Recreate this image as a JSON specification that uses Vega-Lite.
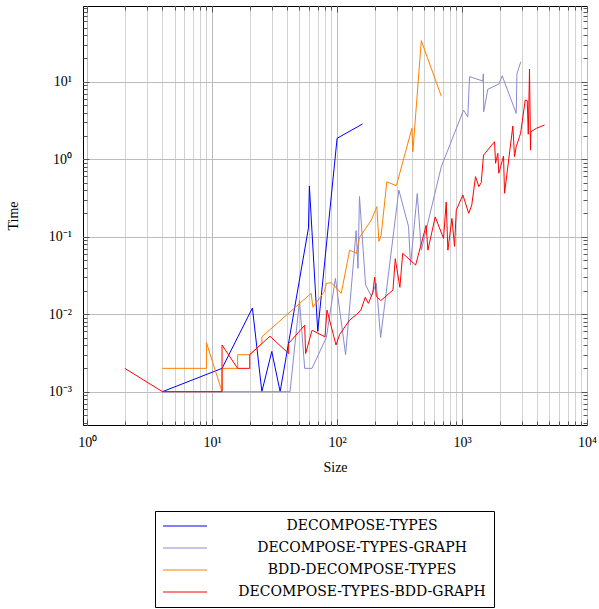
{
  "$schema": "https://vega.github.io/schema/vega-lite/v6.json",
  "width": 504,
  "height": 419,
  "autosize": {"type": "none"},
  "padding": {"left": 83, "top": 6, "right": 12, "bottom": 184},
  "background": "white",
  "config": {
    "view": {"stroke": "black", "strokeWidth": 1},
    "axis": {"domain": false, "labelFont": "Liberation Serif", "titleFont": "Liberation Serif", "labelColor": "black", "titleColor": "black", "titleFontWeight": "normal", "tickColor": "#555555", "gridColor": "#c4c4c4", "gridWidth": 1, "tickWidth": 1}
  },
  "data": {"values": [
    {"s":"DECOMPOSE-TYPES","i":0,"x":4,"y":0.001},
    {"s":"DECOMPOSE-TYPES","i":1,"x":12,"y":0.002},
    {"s":"DECOMPOSE-TYPES","i":2,"x":21,"y":0.012},
    {"s":"DECOMPOSE-TYPES","i":3,"x":25,"y":0.001},
    {"s":"DECOMPOSE-TYPES","i":4,"x":30,"y":0.0033},
    {"s":"DECOMPOSE-TYPES","i":5,"x":35,"y":0.001},
    {"s":"DECOMPOSE-TYPES","i":6,"x":59,"y":0.13},
    {"s":"DECOMPOSE-TYPES","i":7,"x":60,"y":0.45},
    {"s":"DECOMPOSE-TYPES","i":8,"x":70,"y":0.006},
    {"s":"DECOMPOSE-TYPES","i":9,"x":100,"y":1.86},
    {"s":"DECOMPOSE-TYPES","i":10,"x":160,"y":2.85},
    {"s":"DECOMPOSE-TYPES-GRAPH","i":11,"x":4,"y":0.001},
    {"s":"DECOMPOSE-TYPES-GRAPH","i":12,"x":12,"y":0.001},
    {"s":"DECOMPOSE-TYPES-GRAPH","i":13,"x":42,"y":0.001},
    {"s":"DECOMPOSE-TYPES-GRAPH","i":14,"x":50,"y":0.015},
    {"s":"DECOMPOSE-TYPES-GRAPH","i":15,"x":55,"y":0.002},
    {"s":"DECOMPOSE-TYPES-GRAPH","i":16,"x":63,"y":0.002},
    {"s":"DECOMPOSE-TYPES-GRAPH","i":17,"x":82,"y":0.005},
    {"s":"DECOMPOSE-TYPES-GRAPH","i":18,"x":97,"y":0.029},
    {"s":"DECOMPOSE-TYPES-GRAPH","i":19,"x":117,"y":0.003},
    {"s":"DECOMPOSE-TYPES-GRAPH","i":20,"x":142,"y":0.12},
    {"s":"DECOMPOSE-TYPES-GRAPH","i":21,"x":147,"y":0.039},
    {"s":"DECOMPOSE-TYPES-GRAPH","i":22,"x":151,"y":0.33},
    {"s":"DECOMPOSE-TYPES-GRAPH","i":23,"x":169,"y":0.024},
    {"s":"DECOMPOSE-TYPES-GRAPH","i":24,"x":188,"y":0.017},
    {"s":"DECOMPOSE-TYPES-GRAPH","i":25,"x":206,"y":0.025},
    {"s":"DECOMPOSE-TYPES-GRAPH","i":26,"x":223,"y":0.005},
    {"s":"DECOMPOSE-TYPES-GRAPH","i":27,"x":312,"y":0.40},
    {"s":"DECOMPOSE-TYPES-GRAPH","i":28,"x":373,"y":0.135},
    {"s":"DECOMPOSE-TYPES-GRAPH","i":29,"x":387,"y":0.043},
    {"s":"DECOMPOSE-TYPES-GRAPH","i":30,"x":438,"y":0.36},
    {"s":"DECOMPOSE-TYPES-GRAPH","i":31,"x":472,"y":0.067},
    {"s":"DECOMPOSE-TYPES-GRAPH","i":32,"x":682,"y":0.8},
    {"s":"DECOMPOSE-TYPES-GRAPH","i":33,"x":1028,"y":4.3},
    {"s":"DECOMPOSE-TYPES-GRAPH","i":34,"x":1112,"y":3.5},
    {"s":"DECOMPOSE-TYPES-GRAPH","i":35,"x":1148,"y":11.6},
    {"s":"DECOMPOSE-TYPES-GRAPH","i":36,"x":1467,"y":10.2},
    {"s":"DECOMPOSE-TYPES-GRAPH","i":37,"x":1480,"y":12.6},
    {"s":"DECOMPOSE-TYPES-GRAPH","i":38,"x":1490,"y":4.1},
    {"s":"DECOMPOSE-TYPES-GRAPH","i":39,"x":1608,"y":8.0},
    {"s":"DECOMPOSE-TYPES-GRAPH","i":40,"x":1969,"y":9.3},
    {"s":"DECOMPOSE-TYPES-GRAPH","i":41,"x":2097,"y":11.9},
    {"s":"DECOMPOSE-TYPES-GRAPH","i":42,"x":2714,"y":3.9},
    {"s":"DECOMPOSE-TYPES-GRAPH","i":43,"x":2750,"y":12.6},
    {"s":"DECOMPOSE-TYPES-GRAPH","i":44,"x":2953,"y":18.1},
    {"s":"BDD-DECOMPOSE-TYPES","i":45,"x":4,"y":0.002},
    {"s":"BDD-DECOMPOSE-TYPES","i":46,"x":9,"y":0.002},
    {"s":"BDD-DECOMPOSE-TYPES","i":47,"x":9,"y":0.0043},
    {"s":"BDD-DECOMPOSE-TYPES","i":48,"x":12,"y":0.001},
    {"s":"BDD-DECOMPOSE-TYPES","i":49,"x":12,"y":0.002},
    {"s":"BDD-DECOMPOSE-TYPES","i":50,"x":16,"y":0.002},
    {"s":"BDD-DECOMPOSE-TYPES","i":51,"x":16,"y":0.003},
    {"s":"BDD-DECOMPOSE-TYPES","i":52,"x":20,"y":0.003},
    {"s":"BDD-DECOMPOSE-TYPES","i":53,"x":25,"y":0.0042},
    {"s":"BDD-DECOMPOSE-TYPES","i":54,"x":25,"y":0.0051},
    {"s":"BDD-DECOMPOSE-TYPES","i":55,"x":62,"y":0.0186},
    {"s":"BDD-DECOMPOSE-TYPES","i":56,"x":64,"y":0.0123},
    {"s":"BDD-DECOMPOSE-TYPES","i":57,"x":79,"y":0.0195},
    {"s":"BDD-DECOMPOSE-TYPES","i":58,"x":82,"y":0.025},
    {"s":"BDD-DECOMPOSE-TYPES","i":59,"x":90,"y":0.0255},
    {"s":"BDD-DECOMPOSE-TYPES","i":60,"x":108,"y":0.0186},
    {"s":"BDD-DECOMPOSE-TYPES","i":61,"x":126,"y":0.067},
    {"s":"BDD-DECOMPOSE-TYPES","i":62,"x":143,"y":0.061},
    {"s":"BDD-DECOMPOSE-TYPES","i":63,"x":151,"y":0.098},
    {"s":"BDD-DECOMPOSE-TYPES","i":64,"x":188,"y":0.164},
    {"s":"BDD-DECOMPOSE-TYPES","i":65,"x":208,"y":0.244},
    {"s":"BDD-DECOMPOSE-TYPES","i":66,"x":216,"y":0.087},
    {"s":"BDD-DECOMPOSE-TYPES","i":67,"x":225,"y":0.103},
    {"s":"BDD-DECOMPOSE-TYPES","i":68,"x":250,"y":0.51},
    {"s":"BDD-DECOMPOSE-TYPES","i":69,"x":298,"y":0.455},
    {"s":"BDD-DECOMPOSE-TYPES","i":70,"x":397,"y":2.5},
    {"s":"BDD-DECOMPOSE-TYPES","i":71,"x":404,"y":1.25},
    {"s":"BDD-DECOMPOSE-TYPES","i":72,"x":472,"y":33.8},
    {"s":"BDD-DECOMPOSE-TYPES","i":73,"x":682,"y":6.5},
    {"s":"DECOMPOSE-TYPES-BDD-GRAPH","i":74,"x":2,"y":0.002},
    {"s":"DECOMPOSE-TYPES-BDD-GRAPH","i":75,"x":4,"y":0.001},
    {"s":"DECOMPOSE-TYPES-BDD-GRAPH","i":76,"x":12,"y":0.001},
    {"s":"DECOMPOSE-TYPES-BDD-GRAPH","i":77,"x":12,"y":0.004},
    {"s":"DECOMPOSE-TYPES-BDD-GRAPH","i":78,"x":16,"y":0.002},
    {"s":"DECOMPOSE-TYPES-BDD-GRAPH","i":79,"x":20,"y":0.002},
    {"s":"DECOMPOSE-TYPES-BDD-GRAPH","i":80,"x":20,"y":0.003},
    {"s":"DECOMPOSE-TYPES-BDD-GRAPH","i":81,"x":29,"y":0.0052},
    {"s":"DECOMPOSE-TYPES-BDD-GRAPH","i":82,"x":41,"y":0.0031},
    {"s":"DECOMPOSE-TYPES-BDD-GRAPH","i":83,"x":41,"y":0.0042},
    {"s":"DECOMPOSE-TYPES-BDD-GRAPH","i":84,"x":55,"y":0.0072},
    {"s":"DECOMPOSE-TYPES-BDD-GRAPH","i":85,"x":56,"y":0.0031},
    {"s":"DECOMPOSE-TYPES-BDD-GRAPH","i":86,"x":63,"y":0.0062},
    {"s":"DECOMPOSE-TYPES-BDD-GRAPH","i":87,"x":80,"y":0.0051},
    {"s":"DECOMPOSE-TYPES-BDD-GRAPH","i":88,"x":83,"y":0.0113},
    {"s":"DECOMPOSE-TYPES-BDD-GRAPH","i":89,"x":98,"y":0.004},
    {"s":"DECOMPOSE-TYPES-BDD-GRAPH","i":90,"x":105,"y":0.0055},
    {"s":"DECOMPOSE-TYPES-BDD-GRAPH","i":91,"x":126,"y":0.0084},
    {"s":"DECOMPOSE-TYPES-BDD-GRAPH","i":92,"x":142,"y":0.0098},
    {"s":"DECOMPOSE-TYPES-BDD-GRAPH","i":93,"x":155,"y":0.0113},
    {"s":"DECOMPOSE-TYPES-BDD-GRAPH","i":94,"x":168,"y":0.0165},
    {"s":"DECOMPOSE-TYPES-BDD-GRAPH","i":95,"x":178,"y":0.0138},
    {"s":"DECOMPOSE-TYPES-BDD-GRAPH","i":96,"x":193,"y":0.019},
    {"s":"DECOMPOSE-TYPES-BDD-GRAPH","i":97,"x":200,"y":0.03},
    {"s":"DECOMPOSE-TYPES-BDD-GRAPH","i":98,"x":206,"y":0.017},
    {"s":"DECOMPOSE-TYPES-BDD-GRAPH","i":99,"x":224,"y":0.015},
    {"s":"DECOMPOSE-TYPES-BDD-GRAPH","i":100,"x":280,"y":0.0205},
    {"s":"DECOMPOSE-TYPES-BDD-GRAPH","i":101,"x":292,"y":0.052},
    {"s":"DECOMPOSE-TYPES-BDD-GRAPH","i":102,"x":318,"y":0.0222},
    {"s":"DECOMPOSE-TYPES-BDD-GRAPH","i":103,"x":335,"y":0.061},
    {"s":"DECOMPOSE-TYPES-BDD-GRAPH","i":104,"x":425,"y":0.043},
    {"s":"DECOMPOSE-TYPES-BDD-GRAPH","i":105,"x":516,"y":0.14},
    {"s":"DECOMPOSE-TYPES-BDD-GRAPH","i":106,"x":533,"y":0.067},
    {"s":"DECOMPOSE-TYPES-BDD-GRAPH","i":107,"x":610,"y":0.18},
    {"s":"DECOMPOSE-TYPES-BDD-GRAPH","i":108,"x":711,"y":0.095},
    {"s":"DECOMPOSE-TYPES-BDD-GRAPH","i":109,"x":747,"y":0.28},
    {"s":"DECOMPOSE-TYPES-BDD-GRAPH","i":110,"x":770,"y":0.067},
    {"s":"DECOMPOSE-TYPES-BDD-GRAPH","i":111,"x":830,"y":0.172},
    {"s":"DECOMPOSE-TYPES-BDD-GRAPH","i":112,"x":871,"y":0.075},
    {"s":"DECOMPOSE-TYPES-BDD-GRAPH","i":113,"x":899,"y":0.22},
    {"s":"DECOMPOSE-TYPES-BDD-GRAPH","i":114,"x":1015,"y":0.345},
    {"s":"DECOMPOSE-TYPES-BDD-GRAPH","i":115,"x":1132,"y":0.2},
    {"s":"DECOMPOSE-TYPES-BDD-GRAPH","i":116,"x":1196,"y":0.256},
    {"s":"DECOMPOSE-TYPES-BDD-GRAPH","i":117,"x":1282,"y":0.595},
    {"s":"DECOMPOSE-TYPES-BDD-GRAPH","i":118,"x":1363,"y":0.442},
    {"s":"DECOMPOSE-TYPES-BDD-GRAPH","i":119,"x":1424,"y":0.498},
    {"s":"DECOMPOSE-TYPES-BDD-GRAPH","i":120,"x":1486,"y":1.13},
    {"s":"DECOMPOSE-TYPES-BDD-GRAPH","i":121,"x":1820,"y":1.68},
    {"s":"DECOMPOSE-TYPES-BDD-GRAPH","i":122,"x":1854,"y":0.885},
    {"s":"DECOMPOSE-TYPES-BDD-GRAPH","i":123,"x":1934,"y":1.19},
    {"s":"DECOMPOSE-TYPES-BDD-GRAPH","i":124,"x":1969,"y":0.658},
    {"s":"DECOMPOSE-TYPES-BDD-GRAPH","i":125,"x":2148,"y":1.1},
    {"s":"DECOMPOSE-TYPES-BDD-GRAPH","i":126,"x":2188,"y":0.363},
    {"s":"DECOMPOSE-TYPES-BDD-GRAPH","i":127,"x":2550,"y":2.68},
    {"s":"DECOMPOSE-TYPES-BDD-GRAPH","i":128,"x":2630,"y":1.08},
    {"s":"DECOMPOSE-TYPES-BDD-GRAPH","i":129,"x":2714,"y":1.45},
    {"s":"DECOMPOSE-TYPES-BDD-GRAPH","i":130,"x":2884,"y":1.95},
    {"s":"DECOMPOSE-TYPES-BDD-GRAPH","i":131,"x":2942,"y":2.16},
    {"s":"DECOMPOSE-TYPES-BDD-GRAPH","i":132,"x":3203,"y":5.8},
    {"s":"DECOMPOSE-TYPES-BDD-GRAPH","i":133,"x":3325,"y":5.7},
    {"s":"DECOMPOSE-TYPES-BDD-GRAPH","i":134,"x":3388,"y":2.1},
    {"s":"DECOMPOSE-TYPES-BDD-GRAPH","i":135,"x":3467,"y":14.5},
    {"s":"DECOMPOSE-TYPES-BDD-GRAPH","i":136,"x":3532,"y":1.31},
    {"s":"DECOMPOSE-TYPES-BDD-GRAPH","i":137,"x":3550,"y":2.26},
    {"s":"DECOMPOSE-TYPES-BDD-GRAPH","i":138,"x":3924,"y":2.5},
    {"s":"DECOMPOSE-TYPES-BDD-GRAPH","i":139,"x":4571,"y":2.76}
  ]},
  "resolve": {"axis": {"x": "independent", "y": "independent"}},
  "layer": [
    {
      "mark": {"type": "line", "strokeWidth": 1, "clip": true},
      "encoding": {
        "x": {"field": "x", "type": "quantitative",
          "scale": {"type": "log", "domain": [0.9255, 10000], "nice": false},
          "axis": {"orient": "bottom", "values": [1, 10, 100, 1000, 10000],
            "labelExpr": "datum.value < 5 ? '10⁰' : datum.value < 50 ? '10¹' : datum.value < 500 ? '10²' : datum.value < 5000 ? '10³' : '10⁴'",
            "grid": true, "gridColor": "#bcbcbc", "ticks": true, "tickSize": -6, "labelPadding": 16,
            "labelFontSize": 14, "labelFlush": false, "labelOverlap": false,
            "title": "Size", "titleFontSize": 14, "titlePadding": 11}},
        "y": {"field": "y", "type": "quantitative",
          "scale": {"type": "log", "domain": [0.0003715, 94.8], "nice": false},
          "axis": {"orient": "left", "values": [0.001, 0.01, 0.1, 1, 10],
            "labelExpr": "datum.value < 0.005 ? '10⁻³' : datum.value < 0.05 ? '10⁻²' : datum.value < 0.5 ? '10⁻¹' : datum.value < 5 ? '10⁰' : '10¹'",
            "grid": true, "gridColor": "#bcbcbc", "ticks": true, "tickSize": -6, "labelPadding": 17.6,
            "labelFontSize": 14, "labelFlush": false, "labelOverlap": false,
            "title": "Time", "titleFontSize": 14, "titlePadding": 28}},
        "color": {"field": "s", "type": "nominal",
          "scale": {"domain": ["DECOMPOSE-TYPES", "DECOMPOSE-TYPES-GRAPH", "BDD-DECOMPOSE-TYPES", "DECOMPOSE-TYPES-BDD-GRAPH"],
                    "range": ["#0000ff", "#8a8ad0", "#ff8000", "#ff0000"]},
          "legend": {"title": null, "orient": "none", "legendX": 72, "legendY": 505, "direction": "vertical",
            "symbolType": "M-4,0H4", "symbolSize": 121, "symbolStrokeWidth": 1, "symbolOffset": 15,
            "labelOffset": 170, "labelAlign": "center", "labelFont": "DejaVu Serif", "labelFontSize": 14,
            "labelColor": "black", "labelLimit": 0, "rowPadding": 8, "padding": 8,
            "strokeColor": "black", "fillColor": "white"}},
        "order": {"field": "i", "type": "quantitative"}
      }
    },
    {
      "mark": {"type": "point", "opacity": 0},
      "encoding": {
        "x": {"field": "x", "type": "quantitative",
          "scale": {"type": "log", "domain": [0.9255, 10000], "nice": false},
          "axis": {"orient": "bottom", "values": [2,3,4,5,6,7,8,9,20,30,40,50,60,70,80,90,200,300,400,500,600,700,800,900,2000,3000,4000,5000,6000,7000,8000,9000],
            "labels": false, "grid": true, "gridColor": "#d2d2d2", "ticks": true, "tickSize": -4, "title": null}},
        "y": {"field": "y", "type": "quantitative",
          "scale": {"type": "log", "domain": [0.0003715, 94.8], "nice": false},
          "axis": {"orient": "left", "values": [0.0004,0.0005,0.0006,0.0007,0.0008,0.0009,0.002,0.003,0.004,0.005,0.006,0.007,0.008,0.009,0.02,0.03,0.04,0.05,0.06,0.07,0.08,0.09,0.2,0.3,0.4,0.5,0.6,0.7,0.8,0.9,2,3,4,5,6,7,8,9,20,30,40,50,60,70,80,90],
            "labels": false, "grid": false, "ticks": true, "tickSize": -4, "title": null}}
      }
    },
    {
      "mark": {"type": "point", "opacity": 0},
      "encoding": {
        "x": {"field": "x", "type": "quantitative",
          "scale": {"type": "log", "domain": [0.9255, 10000], "nice": false},
          "axis": {"orient": "top", "values": [1, 10, 100, 1000, 10000], "labels": false, "grid": false, "ticks": true, "tickSize": -6, "title": null}},
        "y": {"field": "y", "type": "quantitative",
          "scale": {"type": "log", "domain": [0.0003715, 94.8], "nice": false},
          "axis": {"orient": "right", "values": [0.001, 0.01, 0.1, 1, 10], "labels": false, "grid": false, "ticks": true, "tickSize": -6, "title": null}}
      }
    },
    {
      "mark": {"type": "point", "opacity": 0},
      "encoding": {
        "x": {"field": "x", "type": "quantitative",
          "scale": {"type": "log", "domain": [0.9255, 10000], "nice": false},
          "axis": {"orient": "top", "values": [2,3,4,5,6,7,8,9,20,30,40,50,60,70,80,90,200,300,400,500,600,700,800,900,2000,3000,4000,5000,6000,7000,8000,9000],
            "labels": false, "grid": false, "ticks": true, "tickSize": -4, "title": null}},
        "y": {"field": "y", "type": "quantitative",
          "scale": {"type": "log", "domain": [0.0003715, 94.8], "nice": false},
          "axis": {"orient": "right", "values": [0.0004,0.0005,0.0006,0.0007,0.0008,0.0009,0.002,0.003,0.004,0.005,0.006,0.007,0.008,0.009,0.02,0.03,0.04,0.05,0.06,0.07,0.08,0.09,0.2,0.3,0.4,0.5,0.6,0.7,0.8,0.9,2,3,4,5,6,7,8,9,20,30,40,50,60,70,80,90],
            "labels": false, "grid": false, "ticks": true, "tickSize": -4, "title": null}}
      }
    }
  ]
}
